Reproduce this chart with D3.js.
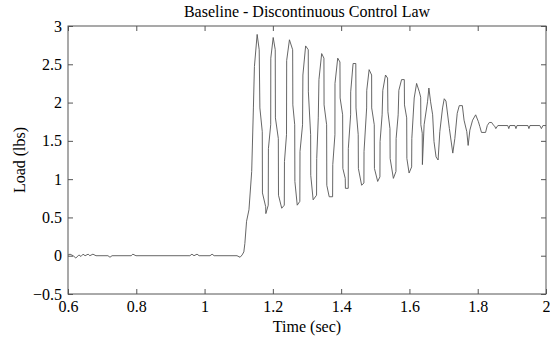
<!DOCTYPE html>
<html>
<head>
<meta charset="utf-8">
<script src="https://cdn.jsdelivr.net/npm/d3@7"></script>
<style>
  body { margin: 0; background: #fff; }
  svg text { font-family: "Liberation Serif", "Times New Roman", serif; fill: #000; }
</style>
</head>
<body>
<div id="chart"></div>
<script>
// time (sec) and load (lbs)
const time = [
  0.600, 0.606, 0.615, 0.623, 0.632, 0.638, 0.644, 0.650, 0.659, 0.664, 0.673, 0.682,
  0.717, 0.723, 0.729, 0.785, 0.790, 0.799, 0.957, 0.963, 0.969, 0.978, 0.984,
  1.016, 1.022, 1.028, 1.095, 1.104, 1.110, 1.115,
  1.118, 1.123, 1.130, 1.138, 1.143, 1.146, 1.154,
  1.160, 1.162, 1.169, 1.1695, 1.179, 1.1795, 1.1865, 1.187, 1.1937, 1.194, 1.201,
  1.207, 1.2075, 1.216, 1.2165, 1.226, 1.2335, 1.234, 1.240, 1.2405, 1.2486,
  1.258, 1.2585, 1.264, 1.2645, 1.2714, 1.279, 1.2795, 1.287, 1.288, 1.296,
  1.3037, 1.304, 1.3107, 1.311, 1.318, 1.328, 1.3285, 1.333, 1.335, 1.343,
  1.3496, 1.350, 1.3575, 1.358, 1.365, 1.375, 1.3755, 1.3818, 1.382, 1.390,
  1.3965, 1.397, 1.4044, 1.405, 1.412, 1.4125, 1.4208, 1.421, 1.4278, 1.428, 1.435, 1.443,
  1.4435, 1.450, 1.4505, 1.460, 1.4667, 1.467, 1.4747, 1.475, 1.482,
  1.4893, 1.4895, 1.497, 1.4975, 1.507, 1.5136, 1.514, 1.520, 1.522, 1.530,
  1.536, 1.537, 1.543, 1.5435, 1.553, 1.5605, 1.561, 1.567, 1.569, 1.577, 1.585,
  1.5855, 1.592, 1.5925, 1.599, 1.6065, 1.607, 1.614, 1.621,
  1.629, 1.633, 1.6335, 1.6375, 1.638, 1.643, 1.653, 1.657,
  1.662, 1.668, 1.672, 1.678, 1.684, 1.689, 1.697, 1.702,
  1.707, 1.717, 1.727, 1.733, 1.740, 1.746, 1.755,
  1.760, 1.768, 1.772, 1.777, 1.785, 1.794, 1.802, 1.806, 1.811, 1.823,
  1.828, 1.834, 1.841, 1.845, 1.850,
  1.853, 1.859, 1.888, 1.891, 1.894, 1.909, 1.912, 1.915, 1.947, 1.950, 1.953,
  1.982, 1.9865, 1.991, 2.000
];
const load = [
  0.01, 0.02, 0.00, -0.03, 0.01, -0.01, 0.02, 0.00, 0.02, 0.00, 0.02, 0.00,
  0.00, -0.02, 0.00, 0.00, 0.02, 0.00, 0.00, 0.02, 0.00, 0.02, 0.00,
  0.00, 0.02, 0.00, 0.00, -0.02, 0.01, 0.05,
  0.16, 0.45, 0.60, 1.10, 1.93, 2.47, 2.89,
  2.69, 1.93, 1.62, 0.82, 0.64, 0.55, 0.66, 1.40, 1.71, 2.58, 2.85,
  2.69, 1.80, 1.53, 0.79, 0.62, 0.66, 1.23, 1.58, 2.55, 2.82,
  2.69, 1.97, 1.71, 0.97, 0.66, 0.71, 1.36, 1.71, 2.36, 2.74,
  2.69, 2.14, 1.58, 1.05, 0.73, 0.79, 1.27, 1.80, 2.30, 2.64,
  2.58, 1.97, 1.71, 0.92, 0.77, 0.77, 1.19, 1.58, 2.25, 2.58,
  2.53, 2.06, 1.84, 1.14, 1.01, 0.88, 0.88, 1.40, 1.84, 2.14, 2.51, 2.51,
  1.93, 1.58, 1.14, 0.92, 0.95, 1.36, 1.93, 2.16, 2.43,
  2.36, 1.93, 1.71, 1.14, 0.97, 1.03, 1.49, 1.84, 2.16, 2.36,
  2.32, 1.88, 1.66, 1.27, 1.01, 1.10, 1.53, 1.84, 2.16, 2.30, 2.30,
  1.97, 1.80, 1.27, 1.08, 1.16, 1.53, 2.06, 2.25,
  2.14, 2.07, 1.71, 1.60, 1.19, 1.71, 2.01, 2.19,
  2.01, 1.84, 1.49, 1.29, 1.25, 1.62, 1.93, 2.05,
  2.02, 1.66, 1.34, 1.53, 1.86, 1.96, 1.96,
  1.77, 1.62, 1.44, 1.64, 1.77, 1.84, 1.75, 1.69, 1.61, 1.61,
  1.70, 1.74, 1.74, 1.71, 1.69,
  1.66, 1.70, 1.70, 1.66, 1.70, 1.70, 1.66, 1.70, 1.70, 1.66, 1.70,
  1.70, 1.66, 1.70, 1.70
];
const xTicks = [0.6, 0.8, 1, 1.2, 1.4, 1.6, 1.8, 2];
const yTicks = [-0.5, 0, 0.5, 1, 1.5, 2, 2.5, 3];

const width = 550, height = 343;
const margin = {top: 26, right: 4, bottom: 49, left: 68};

const svg = d3.select("#chart")
  .append("svg")
  .attr("width", width)
  .attr("height", height);

const x = d3.scaleLinear()
  .domain([0.6, 2])
  .range([margin.left, width - margin.right]);

const y = d3.scaleLinear()
  .domain([-0.5, 3])
  .range([height - margin.bottom, margin.top]);

const axisColor = "#555";
const fmt = d => d < 0 ? "\u2212" + Math.abs(d) : String(d);

function styleAxis(g) {
  g.select(".domain").remove();
  g.selectAll(".tick line").attr("stroke", axisColor);
  g.selectAll(".tick text").attr("font-size", 16).attr("fill", "#000");
}

// ticks point inwards like the original
svg.append("g")
  .attr("transform", `translate(0,${height - margin.bottom})`)
  .call(d3.axisBottom(x).tickValues(xTicks).tickSize(-5).tickPadding(7).tickFormat(fmt))
  .call(styleAxis);

svg.append("g")
  .attr("transform", `translate(0,${margin.top})`)
  .call(d3.axisTop(x).tickValues(xTicks).tickSize(-5).tickFormat(""))
  .call(styleAxis);

svg.append("g")
  .attr("transform", `translate(${margin.left},0)`)
  .call(d3.axisLeft(y).tickValues(yTicks).tickSize(-5).tickPadding(6).tickFormat(fmt))
  .call(styleAxis);

svg.append("g")
  .attr("transform", `translate(${width - margin.right},0)`)
  .call(d3.axisRight(y).tickValues(yTicks).tickSize(-5).tickFormat(""))
  .call(styleAxis);

svg.append("rect")
  .attr("x", margin.left)
  .attr("y", margin.top)
  .attr("width", width - margin.left - margin.right)
  .attr("height", height - margin.top - margin.bottom)
  .attr("fill", "none")
  .attr("stroke", axisColor)
  .attr("stroke-width", 1);

const line = d3.line()
  .x((d, i) => x(time[i]))
  .y(d => y(d));

svg.append("path")
  .datum(load)
  .attr("d", line)
  .attr("fill", "none")
  .attr("stroke", "#555")
  .attr("stroke-width", 0.9);

// title and labels
svg.append("text")
  .attr("x", (margin.left + width - margin.right) / 2)
  .attr("y", 17)
  .attr("text-anchor", "middle")
  .attr("font-size", 16)
  .text("Baseline - Discontinuous Control Law");

svg.append("text")
  .attr("x", (margin.left + width - margin.right) / 2)
  .attr("y", 332)
  .attr("text-anchor", "middle")
  .attr("font-size", 16)
  .text("Time (sec)");

svg.append("text")
  .attr("x", -(margin.top + height - margin.bottom) / 2)
  .attr("y", 25)
  .attr("transform", "rotate(-90)")
  .attr("text-anchor", "middle")
  .attr("font-size", 16)
  .text("Load (lbs)");
</script>
</body>
</html>
